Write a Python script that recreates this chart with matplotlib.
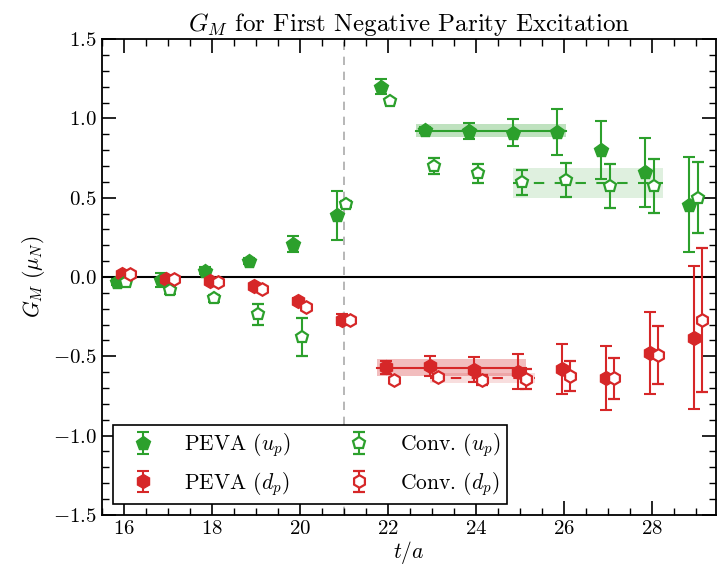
import matplotlib
matplotlib.use("Agg")
import matplotlib.pyplot as plt
import numpy as np
from matplotlib.ticker import MultipleLocator

plt.rcParams['font.family'] = 'serif'
plt.rcParams['font.serif'] = ['cmr10']
plt.rcParams['mathtext.fontset'] = 'cm'
plt.rcParams['axes.formatter.use_mathtext'] = True
plt.rcParams['font.size'] = 15

# data ========================================================
t = np.arange(16, 30)

peva_up = [-0.03, -0.02, 0.04, 0.10, 0.21, 0.39, 1.20, 0.925, 0.92, 0.91,
           0.915, 0.80, 0.66, 0.455]
peva_up_err = [0.02, 0.045, 0.02, 0.02, 0.05, 0.155, 0.048, 0.02, 0.05, 0.084,
               0.147, 0.183, 0.218, 0.30]
conv_up = [-0.03, -0.085, -0.135, -0.235, -0.38, 0.46, 1.11, 0.70, 0.653,
           0.597, 0.611, 0.573, 0.573, 0.50]
conv_up_err = [0.01, 0.02, 0.02, 0.066, 0.12, 0.02, 0.01, 0.05, 0.06, 0.078,
               0.108, 0.138, 0.168, 0.224]

peva_dp = [0.02, -0.015, -0.025, -0.06, -0.15, -0.27, -0.57, -0.56, -0.585,
           -0.597, -0.582, -0.638, -0.481, -0.382]
peva_dp_err = [0.01, 0.01, 0.01, 0.015, 0.02, 0.035, 0.04, 0.063, 0.08, 0.111,
               0.157, 0.202, 0.257, 0.45]
conv_dp = [0.02, -0.015, -0.03, -0.078, -0.19, -0.27, -0.649, -0.632, -0.649,
           -0.643, -0.624, -0.638, -0.49, -0.27]
conv_dp_err = [0.01, 0.01, 0.01, 0.01, 0.015, 0.02, 0.015, 0.02, 0.03, 0.063,
               0.096, 0.13, 0.183, 0.454]

# fits: (t_start, t_end, value, error)
fit_peva_up = (23, 26, 0.922, 0.04)
fit_conv_up = (25, 28, 0.594, 0.095)
fit_peva_dp = (22, 25, -0.572, 0.055)
fit_conv_dp = (23, 25, -0.637, 0.03)
# end data ====================================================

green = '#2ca02c'
red = '#d62728'

fig = plt.figure(figsize=(7.17, 5.67), dpi=100)
ax = fig.add_axes([0.142, 0.092, 0.856, 0.839])

ax.axhline(0, color='k', lw=1.5, zorder=1)
ax.axvline(21, color='#aaaaaa', ls='--', lw=1.2, dashes=(5, 4), zorder=1)


def fit_band(fit, off, col, ls, alpha):
    x = np.array([fit[0] + off - 0.2, fit[1] + off + 0.2])
    ax.fill_between(x, fit[2] - fit[3], fit[2] + fit[3], color=col,
                    alpha=alpha, lw=0, zorder=2)
    ax.plot(x, [fit[2], fit[2]], color=col, ls=ls, lw=1.5, zorder=2)


fit_band(fit_peva_up, -0.15, green, '-', 0.3)
fit_band(fit_conv_up, 0.05, green, (0, (5, 5)), 0.15)
fit_band(fit_peva_dp, -0.05, red, '-', 0.3)
fit_band(fit_conv_dp, 0.15, red, (0, (5, 5)), 0.15)

eb = dict(ls='none', elinewidth=1.5, capsize=4, capthick=1.5, zorder=3)
h1 = ax.errorbar(t - 0.15, peva_up, yerr=peva_up_err, fmt='p', color=green,
                 ms=10, label=r'PEVA $(u_p)$', **eb)
h2 = ax.errorbar(t - 0.05, peva_dp, yerr=peva_dp_err, fmt='h', color=red,
                 ms=10, label=r'PEVA $(d_p)$', **eb)
h3 = ax.errorbar(t + 0.05, conv_up, yerr=conv_up_err, fmt='p', color=green,
                 ms=9, mfc='white', mew=1.6, label=r'Conv. $(u_p)$', **eb)
h4 = ax.errorbar(t + 0.15, conv_dp, yerr=conv_dp_err, fmt='h', color=red,
                 ms=9, mfc='white', mew=1.6, label=r'Conv. $(d_p)$', **eb)

ax.set_xlim(15.5, 29.45)
ax.set_ylim(-1.5, 1.5)
ax.xaxis.set_major_locator(MultipleLocator(2))
ax.xaxis.set_minor_locator(MultipleLocator(0.5))
ax.yaxis.set_major_locator(MultipleLocator(0.5))
ax.yaxis.set_minor_locator(MultipleLocator(0.1))
ax.tick_params(which='both', direction='in', top=True, right=True)
ax.tick_params(which='major', length=10, width=1.2, labelsize=15)
ax.tick_params(which='minor', length=5, width=1.0)
for s in ax.spines.values():
    s.set_linewidth(1.3)

ax.set_title(r'$G_M$ for First Negative Parity Excitation', fontsize=18)
ax.set_xlabel(r'$t/a$', fontsize=15.5, labelpad=1)
ax.set_ylabel(r'$G_M\ (\mu_N)$', fontsize=15.5)

leg = ax.legend(handles=[h1, h2, h3, h4], loc='lower left', ncol=2,
                fancybox=False, edgecolor='k', framealpha=1, fontsize=15.5,
                handlelength=2.2, columnspacing=2.1, borderpad=0.3)
leg.get_frame().set_linewidth(1.2)

fig.savefig('out.png', dpi=100)
